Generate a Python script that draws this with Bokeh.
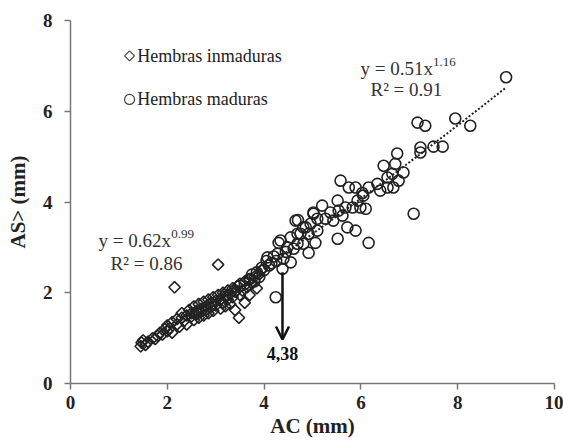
from bokeh.plotting import figure
from bokeh.models import Arrow, OpenHead, FixedTicker
from bokeh.core.properties import value
from bokeh.embed import file_html
from bokeh.resources import INLINE
import numpy as np

# Hembras inmaduras (AC mm, AS> mm)
imm_x = [1.45,1.47,1.5,1.55,1.6,1.7,1.75,1.8,1.85,1.9,1.95,2.0,2.0,2.05,2.1,2.1,2.15,2.2,2.2,2.25,
         2.3,2.3,2.35,2.4,2.4,2.45,2.5,2.5,2.55,2.55,2.6,2.6,2.65,2.65,2.7,2.7,2.75,2.75,2.8,2.8,
         2.85,2.85,2.9,2.9,2.95,2.95,3.0,3.0,3.05,3.05,3.1,3.1,3.15,3.15,3.2,3.2,3.25,3.25,3.3,3.3,
         3.35,3.35,3.4,3.4,3.45,3.48,3.5,3.5,3.55,3.6,3.6,3.65,3.7,3.7,3.75,3.8,3.85,3.9,3.95]
imm_y = [0.82,0.9,0.95,0.85,0.92,1.0,0.98,1.05,1.12,1.08,1.2,1.15,1.28,1.22,1.35,1.12,2.12,1.3,1.42,1.25,
         1.45,1.55,1.38,1.5,1.3,1.62,1.48,1.55,1.4,1.7,1.6,1.52,1.75,1.45,1.65,1.58,1.8,1.5,1.7,1.62,
         1.85,1.55,1.78,1.68,1.9,1.6,1.82,1.72,2.62,1.95,1.85,1.65,2.0,1.78,1.92,1.7,2.05,1.85,1.98,1.75,
         2.1,1.9,2.02,1.62,2.15,1.45,1.95,2.2,2.05,2.25,1.78,2.12,2.3,1.95,2.2,2.35,2.1,2.4,2.5]

# Hembras maduras
mat_x = [2.6,2.9,3.2,3.4,3.5,3.6,3.7,3.75,3.8,3.85,3.9,3.95,4.0,4.05,4.07,4.1,4.15,4.2,4.25,4.28,
         4.3,4.34,4.38,4.4,4.45,4.48,4.24,4.55,4.55,4.61,4.65,4.69,4.69,4.7,4.75,4.81,4.81,4.86,4.92,4.92,
         4.96,5.02,5.02,5.06,5.1,5.1,5.2,5.27,5.37,5.43,5.52,5.52,5.54,5.58,5.62,5.68,5.72,5.75,5.83,5.89,
         5.89,5.93,5.99,6.03,6.05,6.1,6.16,6.16,6.34,6.4,6.47,6.55,6.55,6.65,6.67,6.71,6.75,6.78,6.88,7.09,
         7.17,7.23,7.23,7.33,7.5,7.69,7.95,8.26,9.0]
mat_y = [1.55,1.75,1.95,2.05,2.15,2.2,2.3,2.4,2.25,2.45,2.35,2.55,2.5,2.7,2.78,2.6,2.65,2.8,2.7,2.86,
         3.1,3.15,2.53,2.75,2.9,3.0,1.9,2.67,3.22,2.97,3.59,3.08,3.3,3.6,3.3,3.08,3.44,3.44,2.88,3.3,
         3.52,3.74,3.77,3.1,3.37,3.63,3.92,3.63,3.77,3.59,3.19,4.03,3.81,4.47,3.7,3.88,3.44,4.32,3.88,3.37,
         4.32,4.03,3.88,4.2,4.14,3.85,3.1,4.32,4.4,4.25,4.8,4.32,4.54,4.62,4.32,4.84,5.07,4.47,4.65,3.74,
         5.75,5.09,5.2,5.68,5.22,5.22,5.84,5.68,6.75]

# Power fits y = a * x^b
imm_a, imm_b, imm_r2 = 0.62, 0.99, 0.86
mat_a, mat_b, mat_r2 = 0.51, 1.16, 0.91
imm_fit_range = [1.45, 3.95]
mat_fit_range = [4.38, 9.0]

threshold = 4.38
x_ticks = [0, 2, 4, 6, 8, 10]
y_ticks = [0, 2, 4, 6, 8]

FONT = "Liberation Serif"
INK = "#222222"
AX = "#777777"

p = figure(width=563, height=446, x_range=(0, 10), y_range=(0, 8),
           output_backend="svg", toolbar_location=None,
           min_border_left=70, min_border_right=9, min_border_top=20, min_border_bottom=63)
p.outline_line_color = None
p.xgrid.grid_line_color = None
p.ygrid.grid_line_color = None

for ax in (p.xaxis[0], p.yaxis[0]):
    ax.axis_line_color = AX
    ax.axis_line_width = 1.5
    ax.major_tick_line_color = AX
    ax.major_tick_line_width = 1.5
    ax.major_tick_out = 6
    ax.major_tick_in = 0
    ax.minor_tick_line_color = None
    ax.major_label_text_font = FONT
    ax.major_label_text_font_style = "bold"
    ax.major_label_text_font_size = "19px"
    ax.major_label_text_color = INK
    ax.axis_label_text_font = FONT
    ax.axis_label_text_font_style = "bold"
    ax.axis_label_text_font_size = "21px"
    ax.axis_label_text_color = INK

p.xaxis.ticker = FixedTicker(ticks=x_ticks)
p.yaxis.ticker = FixedTicker(ticks=y_ticks)
p.xaxis.axis_label = "AC (mm)"
p.yaxis.axis_label = "AS> (mm)"
p.xaxis.major_label_standoff = 6
p.yaxis.major_label_standoff = 12
p.xaxis.axis_label_standoff = 2
p.yaxis.axis_label_standoff = 10

# trend lines
xi = np.linspace(imm_fit_range[0], imm_fit_range[1], 50)
xm = np.linspace(mat_fit_range[0], mat_fit_range[1], 50)
p.line(xi, imm_a * xi ** imm_b, line_color=INK, line_width=2, line_dash="2 2")
p.line(xm, mat_a * xm ** mat_b, line_color=INK, line_width=2, line_dash="2 2")

# points (diamonds as squares rotated 45 degrees)
p.scatter(imm_x, imm_y, marker="square", size=8, angle=np.pi / 4, fill_alpha=0.0,
          line_color=INK, line_width=1.6)
p.scatter(mat_x, mat_y, marker="circle", size=11, fill_alpha=0.0,
          line_color=INK, line_width=1.6)

# legend (manual)
p.scatter([1.22], [7.22], marker="square", size=7, angle=np.pi / 4, fill_color="white",
          line_color="#444444", line_width=1.2)
p.scatter([1.22], [6.26], marker="circle", size=10, fill_color="white", line_color="#444444", line_width=1.2)
p.text([1.38], [7.22], text=["Hembras inmaduras"], text_font=value(FONT), text_font_size="18px",
       text_baseline="middle", text_align="left", text_color=INK)
p.text([1.38], [6.26], text=["Hembras maduras"], text_font=value(FONT), text_font_size="18px",
       text_baseline="middle", text_align="left", text_color=INK)

# equations
EQC = "#333333"
def eq(xb, yb, base, sup_txt, xs, ys):
    p.text([xb], [yb], text=[base], text_font=value(FONT), text_font_size="19px",
           text_baseline="alphabetic", text_align="left", text_color=EQC)
    p.text([xs], [ys], text=[sup_txt], text_font=value(FONT), text_font_size="13px",
           text_baseline="alphabetic", text_align="left", text_color=EQC)

eq(5.99, 6.94, "y = %.2fx" % mat_a, "%.2f" % mat_b, 7.49, 7.08)
p.text([6.94], [6.48], text=["R² = %.2f" % mat_r2], text_font=value(FONT), text_font_size="19px",
       text_baseline="alphabetic", text_align="center", text_color=EQC)
eq(0.58, 3.15, "y = %.2fx" % imm_a, "%.2f" % imm_b, 2.08, 3.30)
p.text([1.57], [2.64], text=["R² = %.2f" % imm_r2], text_font=value(FONT), text_font_size="19px",
       text_baseline="alphabetic", text_align="center", text_color=EQC)

# arrow at threshold
p.add_layout(Arrow(x_start=threshold, y_start=2.45, x_end=threshold, y_end=0.97,
                   line_color="#111111", line_width=2.5,
                   end=OpenHead(size=13, line_color="#111111", line_width=2.5)))
p.text([threshold], [0.66], text=["4,38"], text_font=value(FONT), text_font_size="18px",
       text_font_style="bold", text_baseline="middle", text_align="center", text_color="#111111")

open("out.html", "w").write(file_html(p, INLINE))
